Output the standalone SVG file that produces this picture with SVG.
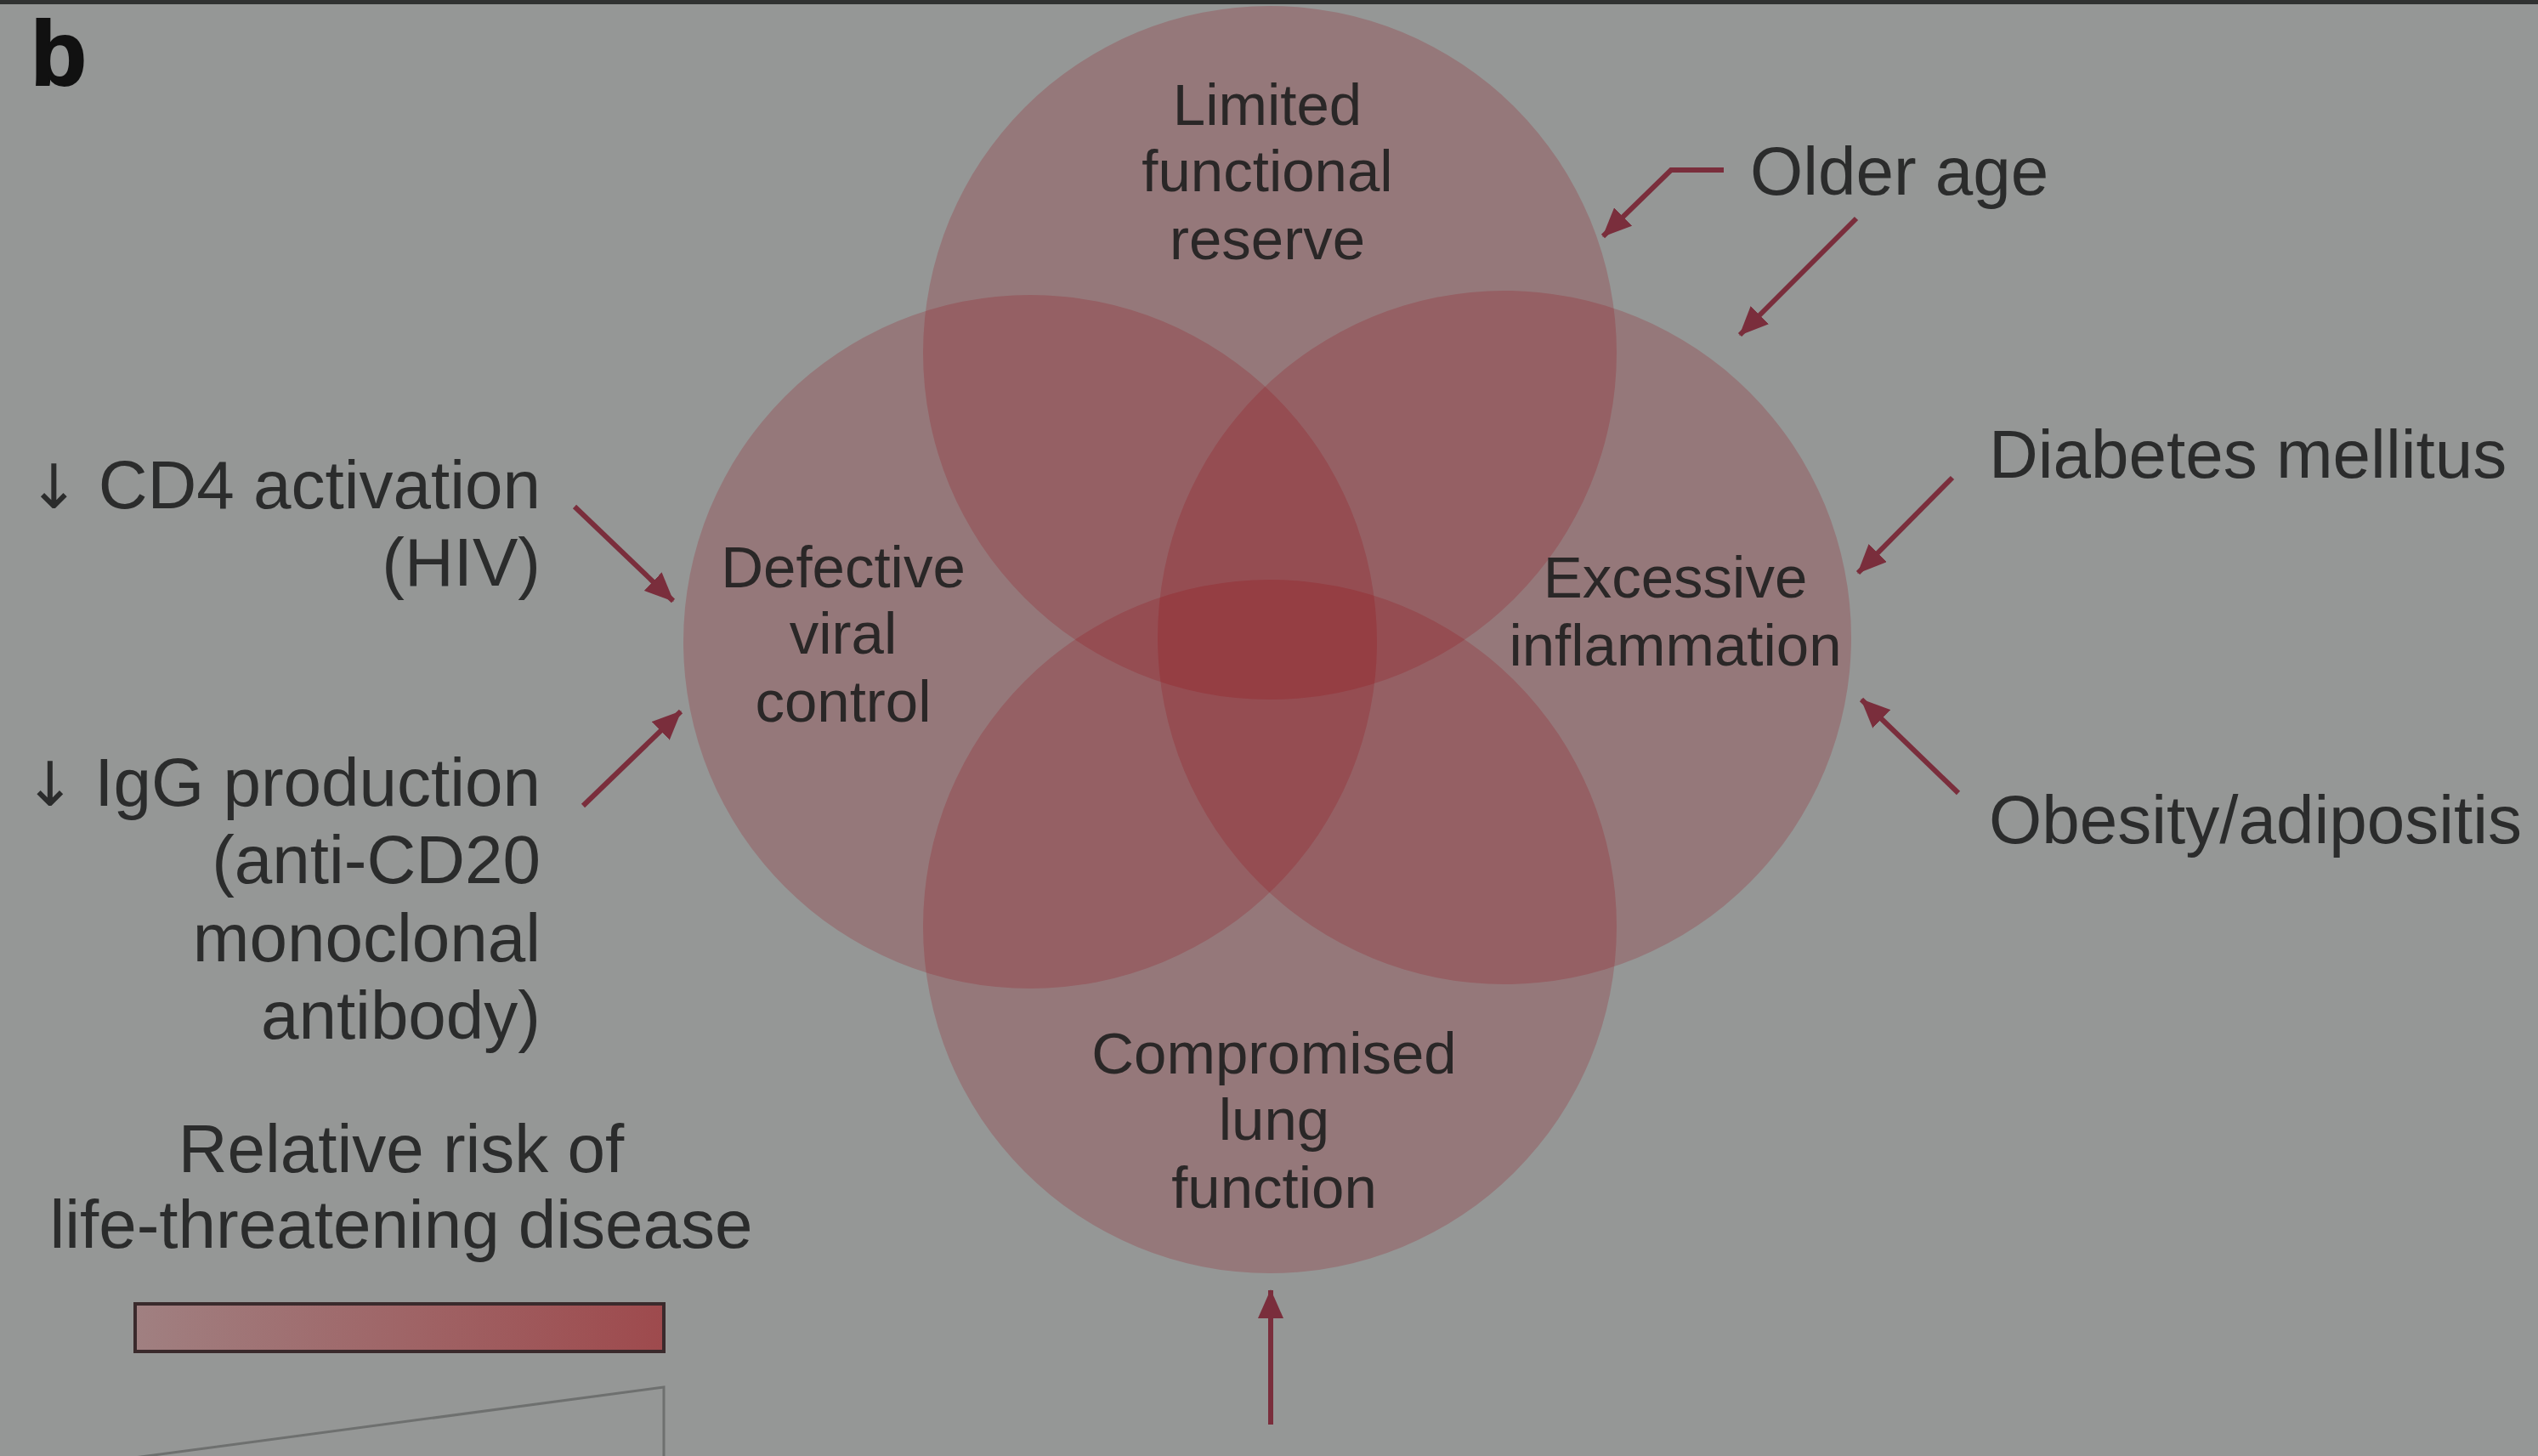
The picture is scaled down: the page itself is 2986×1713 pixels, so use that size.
<svg xmlns="http://www.w3.org/2000/svg" width="2986" height="1713" viewBox="0 0 2986 1713">
<style>
.circ{fill:#ffcbd0;mix-blend-mode:multiply}
.in{font-family:"Liberation Sans",Arial,sans-serif;font-size:69px;fill:#2a2727;text-anchor:middle}
.out{font-family:"Liberation Sans",Arial,sans-serif;font-size:80px;fill:#2b2c2c}
.dn{font-family:"DejaVu Sans",sans-serif;font-size:72px}
.r{text-anchor:end}
.c{text-anchor:middle}
.arr{fill:none;stroke:#7a2e3c;stroke-width:6;marker-end:url(#ah)}
</style>
<defs>
<marker id="ah" markerUnits="userSpaceOnUse" markerWidth="34" markerHeight="30" viewBox="0 0 34 30" refX="33" refY="15" orient="auto">
<path d="M0,0 L34,15 L0,30 z" fill="#7a2e3c"/>
</marker>
<linearGradient id="risk" x1="0" y1="0" x2="1" y2="0">
<stop offset="0" stop-color="#a08081"/>
<stop offset="1" stop-color="#9e4a4d"/>
</linearGradient>
</defs>
<rect width="2986" height="1713" fill="#959796"/>
<rect width="2986" height="5" fill="#303231"/>
<text x="36" y="100" style="font-family:'Liberation Sans',Arial,sans-serif;font-weight:bold;font-size:108px;fill:#111;stroke:#111;stroke-width:2">b</text>

<g id="circles">
<circle class="circ" cx="1494" cy="415" r="408"/>
<circle class="circ" cx="1212" cy="755" r="408"/>
<circle class="circ" cx="1770" cy="750" r="408"/>
<circle class="circ" cx="1494" cy="1090" r="408"/>
</g>

<g id="node-limited">
<text class="in" x="1491" y="147">Limited</text>
<text class="in" x="1491" y="225">functional</text>
<text class="in" x="1491" y="305">reserve</text>
</g>
<g id="node-defective">
<text class="in" x="992" y="691">Defective</text>
<text class="in" x="992" y="769">viral</text>
<text class="in" x="992" y="849">control</text>
</g>
<g id="node-excessive">
<text class="in" x="1971" y="703">Excessive</text>
<text class="in" x="1971" y="783">inflammation</text>
</g>
<g id="node-compromised">
<text class="in" x="1499" y="1263">Compromised</text>
<text class="in" x="1499" y="1341">lung</text>
<text class="in" x="1499" y="1421">function</text>
</g>

<g id="label-older-age"><text class="out" x="2059" y="229">Older age</text></g>
<g id="label-diabetes"><text class="out" x="2340" y="562">Diabetes mellitus</text></g>
<g id="label-obesity"><text class="out" x="2340" y="992">Obesity/adipositis</text></g>
<g id="label-cd4">
<text class="out r" x="636" y="598"><tspan class="dn">↓</tspan> CD4 activation</text>
<text class="out r" x="636" y="689">(HIV)</text>
</g>
<g id="label-igg">
<text class="out r" x="636" y="948"><tspan class="dn">↓</tspan> IgG production</text>
<text class="out r" x="636" y="1039">(anti-CD20</text>
<text class="out r" x="636" y="1131">monoclonal</text>
<text class="out r" x="636" y="1222">antibody)</text>
</g>

<g id="legend">
<text class="out c" x="472" y="1379">Relative risk of</text>
<text class="out c" x="472" y="1468">life-threatening disease</text>
<rect x="159" y="1534" width="622" height="56" fill="url(#risk)" stroke="#3a2a2c" stroke-width="4"/>
<path d="M158,1715 L781,1632 L781,1715" fill="none" stroke="#6e706f" stroke-width="3"/>
</g>

<g id="connectors">
<path class="arr" d="M2028,200 L1966,200 L1886,278"/>
<path class="arr" d="M2184,257 L2047,394"/>
<path class="arr" d="M2297,562 L2186,674"/>
<path class="arr" d="M2304,933 L2190,823"/>
<path class="arr" d="M676,596 L792,707"/>
<path class="arr" d="M686,948 L801,837"/>
<path class="arr" d="M1495,1676 L1495,1518"/>
</g>
</svg>
